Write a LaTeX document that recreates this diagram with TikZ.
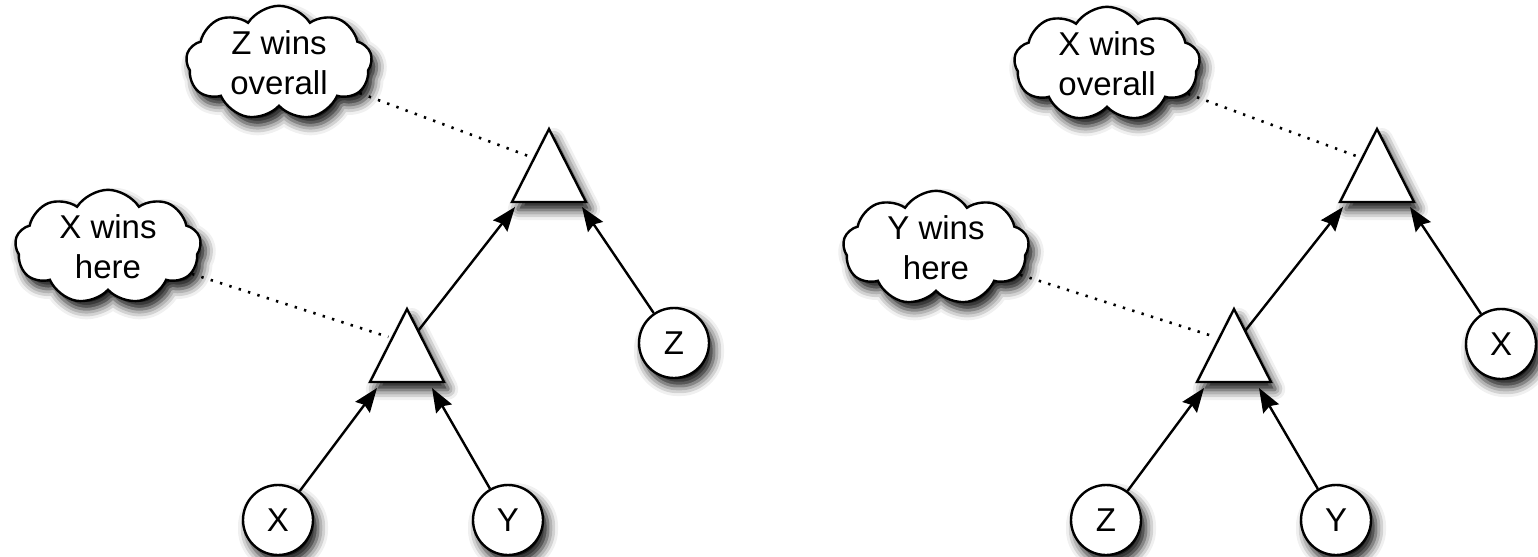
\documentclass[tikz,border=0pt]{standalone}
\usepackage{fontspec}
\setmainfont{Liberation Sans}
\usetikzlibrary{shapes.symbols,shadows.blur,arrows.meta,calc}

\begin{document}
\begin{tikzpicture}[x=0.5pt,y=-0.5pt,
  font=\fontsize{16.5}{20}\selectfont,
  shadowed/.style={blur shadow={shadow xshift=2.5pt,shadow yshift=-4pt,shadow blur radius=5pt,shadow blur extra rounding=1pt,shadow opacity=95}},
  leaf/.style={circle,draw,line width=1.2pt,fill=white,minimum size=35pt,inner sep=0pt,shadowed},
  thought/.style={cloud,cloud puffs=9,cloud puff arc=115,aspect=1.7,draw,line width=1.2pt,fill=white,minimum width=93pt,minimum height=54pt,inner sep=0pt,align=center,shadowed},
  tri/.style={draw,line width=1.2pt,fill=white,line join=miter,shadowed},
  link/.style={draw=black,line width=1.2pt,arrows={-Stealth[length=12pt,width=9pt,inset=1.5pt,fill=black,color=black]}},
  note/.style={line width=1.3pt,dash pattern=on 1.2pt off 3.7pt,shorten >=2pt}
]
\useasboundingbox (0,0) rectangle (1538,557);

% ---------- left tree ----------
\coordinate (LTa) at (549,129);
\coordinate (LTl) at (512,202);
\coordinate (LTr) at (586,202);
\coordinate (LBa) at (407,309);
\coordinate (LBl) at (370,382);
\coordinate (LBr) at (444,382);
\draw[tri] (LTa) -- (LTl) -- (LTr) -- cycle;
\draw[tri] (LBa) -- (LBl) -- (LBr) -- cycle;
\node[leaf] (LZ) at (674,343) {Z};
\node[leaf] (LX) at (278,520) {X};
\node[leaf] (LY) at (508,520) {Y};
\node[thought] (Lc1) at (279,63) {Z wins\\overall};
\node[thought] (Lc2) at (108,247) {X wins\\here};
\coordinate (LTin1) at (515,207);
\coordinate (LTin2) at (582,207);
\coordinate (LBin1) at (377,388);
\coordinate (LBin2) at (432,388);
\coordinate (LBout) at ($(LBa)!0.3!(LBr)$);
\coordinate (LTnote) at ($(LTa)!0.4!(LTl)$);
\coordinate (LBnote) at ($(LBa)!0.4!(LBl)$);
\draw[link] (LX) -- (LBin1);
\draw[link] (LY) -- (LBin2);
\draw[link] (LBout) -- (LTin1);
\draw[link] (LZ) -- (LTin2);
\draw[note] (Lc1) -- (LTnote);
\draw[note] (Lc2) -- (LBnote);

% ---------- right tree ----------
\coordinate (RTa) at (1377,129);
\coordinate (RTl) at (1340,202);
\coordinate (RTr) at (1414,202);
\coordinate (RBa) at (1234,309);
\coordinate (RBl) at (1197,382);
\coordinate (RBr) at (1271,382);
\draw[tri] (RTa) -- (RTl) -- (RTr) -- cycle;
\draw[tri] (RBa) -- (RBl) -- (RBr) -- cycle;
\node[leaf] (RX) at (1501,344) {X};
\node[leaf] (RZ) at (1106,520) {Z};
\node[leaf] (RY) at (1336,520) {Y};
\node[thought] (Rc1) at (1107,64) {X wins\\overall};
\node[thought] (Rc2) at (936,248) {Y wins\\here};
\coordinate (RTin1) at (1343,207);
\coordinate (RTin2) at (1410,207);
\coordinate (RBin1) at (1204,388);
\coordinate (RBin2) at (1259,388);
\coordinate (RBout) at ($(RBa)!0.3!(RBr)$);
\coordinate (RTnote) at ($(RTa)!0.4!(RTl)$);
\coordinate (RBnote) at ($(RBa)!0.4!(RBl)$);
\draw[link] (RZ) -- (RBin1);
\draw[link] (RY) -- (RBin2);
\draw[link] (RBout) -- (RTin1);
\draw[link] (RX) -- (RTin2);
\draw[note] (Rc1) -- (RTnote);
\draw[note] (Rc2) -- (RBnote);
\end{tikzpicture}
\end{document}
